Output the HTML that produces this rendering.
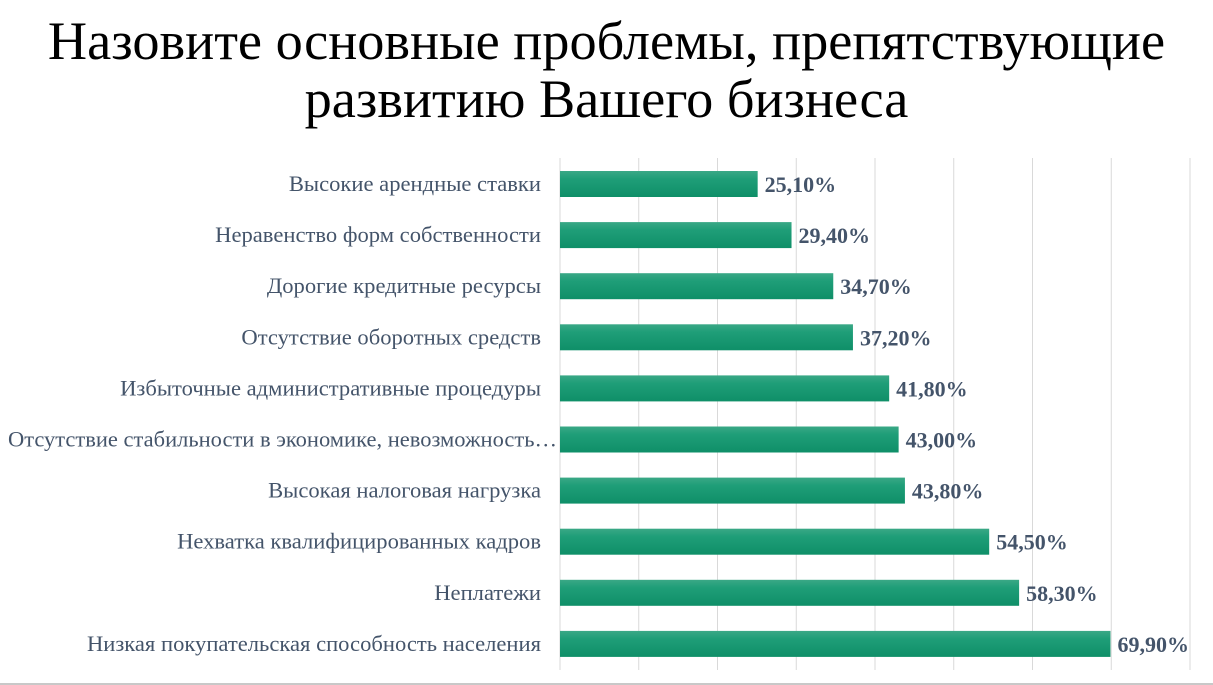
<!DOCTYPE html>
<html><head><meta charset="utf-8"><style>
body{margin:0;background:#fff;width:1213px;height:685px;overflow:hidden;font-family:"Liberation Serif","Noto Serif CJK SC",serif;}
.title{position:absolute;left:0;width:1213px;text-align:center;font-size:54.3px;color:#000;line-height:58px;top:12px;white-space:nowrap;}
</style></head><body>
<div class="title">Назовите основные проблемы, препятствующие<br>развитию Вашего бизнеса</div>
<svg id="c" width="1213" height="685" style="position:absolute;left:0;top:0">
<defs><linearGradient id="g" x1="0" y1="0" x2="0" y2="1"><stop offset="0" stop-color="#3aa886"/><stop offset="0.3" stop-color="#1f9e78"/><stop offset="1" stop-color="#0f8f68"/></linearGradient></defs>
<line x1="0" y1="684" x2="1213" y2="684" stroke="#c8c8c8" stroke-width="2"/>
</svg>
<script>
const categories=["Высокие арендные ставки","Неравенство форм собственности","Дорогие кредитные ресурсы","Отсутствие оборотных средств","Избыточные административные процедуры","Отсутствие стабильности в экономике, невозможность…","Высокая налоговая нагрузка","Нехватка квалифицированных кадров","Неплатежи","Низкая покупательская способность населения"];
const values=[25.1,29.4,34.7,37.2,41.8,43.0,43.8,54.5,58.3,69.9];
const valueLabels=["25,10%","29,40%","34,70%","37,20%","41,80%","43,00%","43,80%","54,50%","58,30%","69,90%"];
const gridTicks=[0,10,20,30,40,50,60,70,80];
const svg=document.getElementById('c');const NS='http://www.w3.org/2000/svg';
const x=v=>560+v*7.875;
const y=i=>184+i*51.1;
function mk(t,a){const e=document.createElementNS(NS,t);for(const k in a)e.setAttribute(k,a[k]);svg.appendChild(e);return e;}
gridTicks.forEach(t=>{const l=mk('line',{x1:x(t),x2:x(t),y1:158,y2:670,stroke:'#d9d9d9','stroke-width':1});

});
categories.forEach((c,i)=>{
const r=mk('rect',{x:x(0),y:y(i)-13,width:x(values[i])-x(0),height:26,fill:'url(#g)'});


const t=mk('text',{x:541,y:y(i)+7,'text-anchor':'end','font-size':'22.6',fill:'#44546a'});t.textContent=c;
if(c.length>45){t.setAttribute('text-anchor','start');t.setAttribute('x','8');t.setAttribute('textLength','549');t.setAttribute('lengthAdjust','spacingAndGlyphs');}


const v=mk('text',{x:x(values[i])+7,y:y(i)+8,'font-size':'22','font-weight':'bold',fill:'#44546a'});v.textContent=valueLabels[i];


});
</script>
</body></html>
